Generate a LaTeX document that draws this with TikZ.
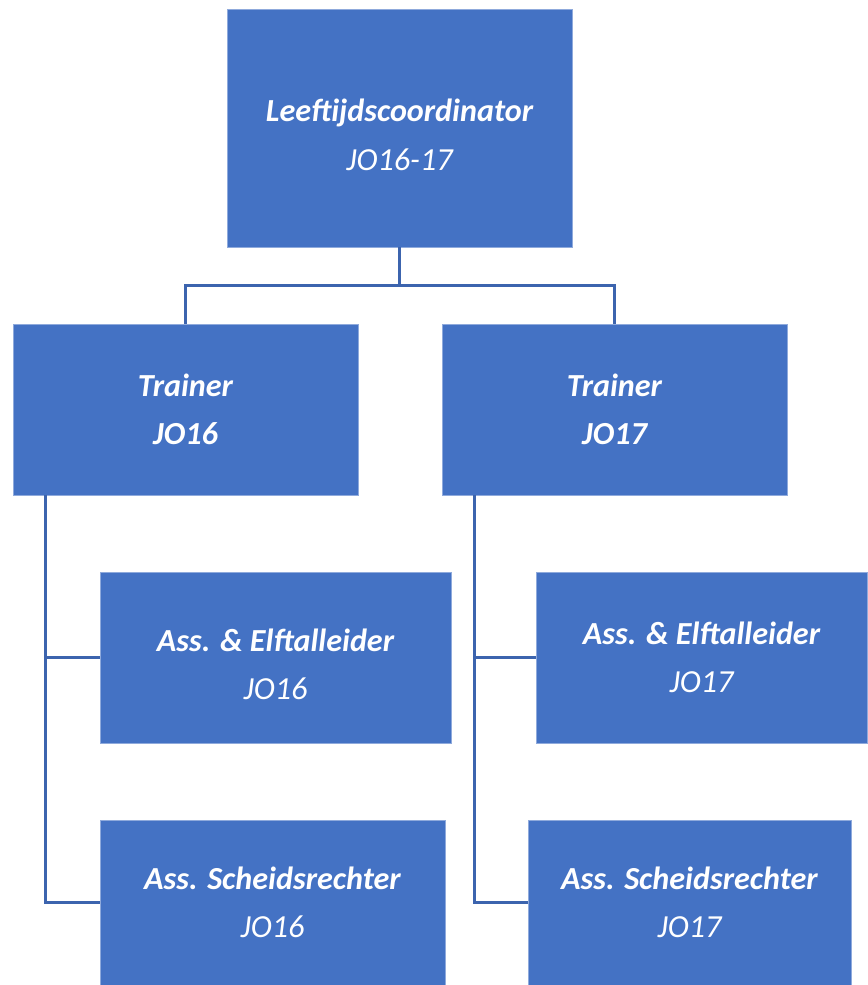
\documentclass[tikz,border=0pt]{standalone}
\usepackage{fontspec}
\setmainfont{Carlito}
\usetikzlibrary{calc,positioning}
\definecolor{boxblue}{HTML}{4472C4}
\definecolor{boxedge}{HTML}{8FAADC}
\definecolor{linkblue}{HTML}{3C64AE}

\begin{document}
\begin{tikzpicture}[
    x=0.02cm,
    y=-0.02cm,
    box/.style={rectangle, draw=boxedge, fill=boxblue, text=white, line width=0.5pt,
        inner sep=0pt, align=center, font=\fontsize{18.3}{27.5}\selectfont\itshape},
    link/.style={draw=linkblue, line width=1.5pt}
]
	\useasboundingbox (0,0) rectangle (867,985);

	\node[box,minimum width=345*0.02cm,minimum height=238*0.02cm] (Coord) at (399.5,128) {\rule{0pt}{20.5pt}\textbf{Leeftijdscoordinator}\\JO16-17};
	\node[box,minimum width=345*0.02cm,minimum height=171*0.02cm] (TrainerA) at (185.5,409.5) {\textbf{Trainer}\\\textbf{JO16}};
	\node[box,minimum width=345*0.02cm,minimum height=171*0.02cm] (TrainerB) at (614.5,409.5) {\textbf{Trainer}\\\textbf{JO17}};
	\node[box,minimum width=351*0.02cm,minimum height=171*0.02cm] (AssA) at (275.5,657.5) {\rule{0pt}{20.5pt}\textbf{Ass. \& Elftalleider}\\JO16};
	\node[box,minimum width=331*0.02cm,minimum height=171*0.02cm] (AssB) at (701.5,657.5) {\textbf{Ass. \& Elftalleider}\\JO17};
	\node[box,minimum width=345*0.02cm,minimum height=165*0.02cm] (RefA) at (272.5,902.5) {\textbf{Ass. Scheidsrechter}\\JO16};
	\node[box,minimum width=323*0.02cm,minimum height=165*0.02cm] (RefB) at (689.5,902.5) {\textbf{Ass. Scheidsrechter}\\JO17};

	\coordinate (Fork) at ($(Coord.south)+(0,38)$);
	\coordinate (StemA) at ($(TrainerA.south west)+(33,0)$);
	\coordinate (StemB) at ($(TrainerB.south west)+(33,0)$);

	\path[link]
		(Coord.south) -- (Fork)
		(Fork) -| (TrainerA.north)
		(Fork) -| (TrainerB.north)
		(StemA) |- (AssA.west)
		(StemA) |- (RefA.west)
		(StemB) |- (AssB.west)
		(StemB) |- (RefB.west);
\end{tikzpicture}
\end{document}
